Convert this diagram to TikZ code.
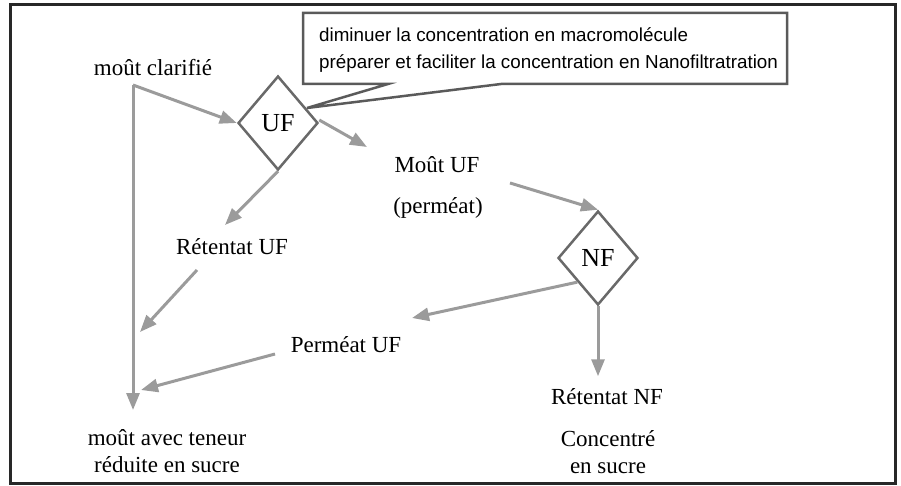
\documentclass[tikz,border=0pt]{standalone}
\usepackage{fontspec}
\setmainfont{Liberation Serif}
\setsansfont{Liberation Sans}
\usetikzlibrary{shapes.geometric,arrows.meta,calc}
\definecolor{framedark}{RGB}{40, 40, 40}
\definecolor{flowgray}{RGB}{155, 155, 155}
\definecolor{filtergray}{RGB}{105, 105, 105}
\definecolor{notegray}{RGB}{90, 90, 90}

\begin{document}
\begin{tikzpicture}[x=1pt, y=-1pt,
        txt/.style={font=\fontsize{23}{27}\selectfont, align=center, inner sep=0pt},
        filter/.style={diamond, draw=filtergray, line width=2.5pt, minimum width=80pt, minimum height=94pt, inner sep=0pt, font=\fontsize{26}{28}\selectfont},
        flow/.style={draw=flowgray, line width=3pt, -{Triangle[length=17pt, width=13pt]}}]
            \useasboundingbox (0,0) rectangle (901,486);
            \draw[framedark, line width=3pt] (10,5) rectangle (895,483);
            % membranes
            \node[filter] (UF) at (278,123) {UF};
            \node[filter] (NF) at (598,258) {NF};
            % flux
            \node[txt] (clar) at (153,68) {moût clarifié};
            \node[txt] (mUF) at (437,165) {Moût UF};
            \node[txt] (perm) at (438,208) {(perméat)};
            \node[txt] (retUF) at (232,247) {Rétentat UF};
            \node[txt] (permUF) at (346,345) {Perméat UF};
            \node[txt] (reduit) at (167,451) {moût avec teneur\\réduite en sucre};
            \node[txt] (retNF) at (607,397) {Rétentat NF};
            \node[txt] (conc) at (608,452) {Concentré\\en sucre};
            % bulle
            \node[font=\fontsize{18.8}{27}\sffamily\selectfont, inner sep=0pt, align=left, anchor=west] (note) at (319,50)
                {diminuer la concentration en macromolécule\\préparer et faciliter la concentration en Nanofiltratration};
            \coordinate (nw) at (303,13);
            \coordinate (se) at (787,84);
            \coordinate (hint) at (307,108);
            \draw[notegray, line width=2.5pt, line join=miter] (nw) -- (nw -| se) -- (se) -- ($(se -| nw)+(198,0)$)
                -- (hint) -- ($(se -| nw)+(85,0)$) -- (se -| nw) -- cycle;
            % connecteurs
            \coordinate (split) at (133,85);
            \coordinate (join) at (133,410);
            \coordinate (in1) at (140,332);
            \coordinate (in2) at (141,390);
            \draw[flow] (split) -- (UF.west);
            \draw[flow] (split) -- (join);
            \draw[flow] (UF.south) -- ($(retUF)+(-7,-22)$);
            \draw[flow] ($(retUF)+(-35,23)$) -- (in1);
            \draw[flow] ([yshift=3pt]UF.east) -- ($(mUF)+(-70,-18)$);
            \draw[flow] ($(perm)+(72,-25)$) -- (NF.north);
            \draw[flow] (NF.south west) -- ($(permUF)+(66,-27)$);
            \draw[flow] (NF.south) -- ++(0,70);
            \draw[flow] ($(permUF)+(-71,9)$) -- (in2);
        \end{tikzpicture}
\end{document}
